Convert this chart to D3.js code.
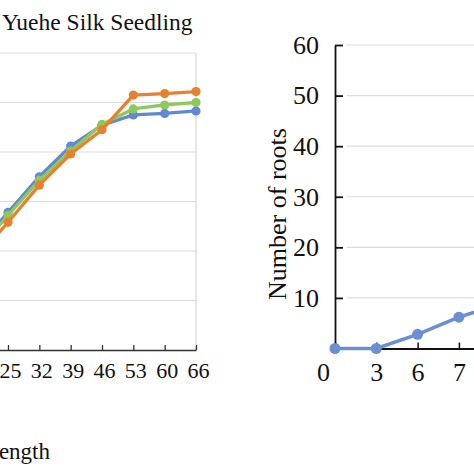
<!DOCTYPE html>
<html>
<head>
<meta charset="utf-8">
<script src="https://cdn.jsdelivr.net/npm/d3@7"></script>
<style>
  html, body { margin: 0; padding: 0; background: #fff; }
  svg { display: block; }
  text { font-family: "Liberation Serif", "DejaVu Serif", serif; fill: #111; }
</style>
</head>
<body>
<svg id="chart"></svg>
<script>
// left panel: seedling length categories and three series
const lengthCats = [18, 25, 32, 39, 46, 53, 60, 66]
const blueSeries = [20.5, 27.8, 35.0, 41.2, 45.4, 47.5, 47.8, 48.3]
const greenSeries = [20.0, 27.2, 34.3, 40.2, 45.6, 48.7, 49.5, 50.0]
const orangeSeries = [18.5, 25.8, 33.3, 39.6, 44.5, 51.5, 51.8, 52.2]
const leftTicks = [0, 10, 20, 30, 40, 50, 60]
const leftLabels = [25, 32, 39, 46, 53, 60, 66]

// right panel: number of roots
const dayCats = ['0', '3', '6', '7', '8']
const rootCounts = [0, 0, 2.8, 6.2, 8.8]
const rightTicks = [10, 20, 30, 40, 50, 60]
const rightLabels = ['0', '3', '6', '7']

const width = 474
const height = 474

const svg = d3.select('#chart')
  .attr('width', width)
  .attr('height', height)

/* ---------- left chart ---------- */
const left = svg.append('g')

const xL = d3.scalePoint().domain(lengthCats).range([8 - 31.33, 196])
const yL = d3.scaleLinear().domain([0, 60]).range([350, 53])

// gridlines
left.append('g').selectAll('line')
  .data(leftTicks.filter(t => t > 0))
  .join('line')
  .attr('x1', -40).attr('x2', xL(66))
  .attr('y1', d => yL(d)).attr('y2', d => yL(d))
  .attr('stroke', '#dcdcdc').attr('stroke-width', 1.2)

// right border of plot
left.append('line')
  .attr('x1', xL(66)).attr('x2', xL(66))
  .attr('y1', yL(60)).attr('y2', yL(0))
  .attr('stroke', '#d6d6d6').attr('stroke-width', 1.2)

// x axis with inner ticks
const xAxisL = d3.axisBottom(xL).tickValues(leftLabels).tickSizeInner(-5).tickSizeOuter(0).tickPadding(12)
const gxL = left.append('g').attr('transform', `translate(0,${yL(0)})`).call(xAxisL)
gxL.select('.domain').attr('stroke', '#333').attr('stroke-width', 1.3)
gxL.selectAll('.tick line').attr('stroke', '#333').attr('stroke-width', 1.3)
gxL.selectAll('.tick text')
  .attr('font-size', 22)
  .attr('dx', 2)
  .style('font-family', '"Liberation Serif", serif')
  .attr('fill', '#111')

// series lines
const leftSeries = [
  { values: blueSeries, color: '#6189d2' },
  { values: greenSeries, color: '#8ec95c' },
  { values: orangeSeries, color: '#e8812f' }
]
const lineL = d3.line().x((d, i) => xL(lengthCats[i])).y(d => yL(d))

leftSeries.forEach(s => {
  left.append('path')
    .datum(s.values)
    .attr('d', lineL)
    .attr('fill', 'none')
    .attr('stroke', s.color)
    .attr('stroke-width', 3.3)
  left.append('g').selectAll('circle')
    .data(s.values)
    .join('circle')
    .attr('cx', (d, i) => xL(lengthCats[i]))
    .attr('cy', d => yL(d))
    .attr('r', 4.6)
    .attr('fill', s.color)
})

// title and x label (cut by the frame)
left.append('text')
  .attr('x', 2).attr('y', 30)
  .attr('font-size', 23.5)
  .text('Yuehe Silk Seedling')

left.append('text')
  .attr('x', 50).attr('y', 459)
  .attr('text-anchor', 'end')
  .attr('font-size', 23)
  .text('Length')

/* ---------- right chart ---------- */
const right = svg.append('g')

const xR = d3.scalePoint().domain(dayCats).range([335, 335 + 4 * 41.3])
const yR = d3.scaleLinear().domain([0, 60]).range([348.5, 45])

right.append('g').selectAll('line')
  .data(rightTicks)
  .join('line')
  .attr('x1', 347).attr('x2', width + 10)
  .attr('y1', d => yR(d)).attr('y2', d => yR(d))
  .attr('stroke', '#dcdcdc').attr('stroke-width', 1.2)

const yAxisR = d3.axisLeft(yR).tickValues(rightTicks).tickSizeInner(-8).tickSizeOuter(0).tickPadding(16)
const gyR = right.append('g').attr('transform', `translate(${xR('0')},0)`).call(yAxisR)
gyR.select('.domain').attr('stroke', '#111').attr('stroke-width', 1.8)
gyR.selectAll('.tick line').attr('stroke', '#111').attr('stroke-width', 1.8)
gyR.selectAll('.tick text')
  .attr('font-size', 26)
  .style('font-family', '"Liberation Serif", serif')
  .attr('fill', '#111')

const xAxisR = d3.axisBottom(xR).tickValues(rightLabels).tickSizeInner(-6).tickSizeOuter(0).tickPadding(14)
const gxR = right.append('g').attr('transform', `translate(0,${yR(0)})`).call(xAxisR)
gxR.select('.domain').attr('stroke', '#111').attr('stroke-width', 1.8)
gxR.selectAll('.tick line').attr('stroke', '#111').attr('stroke-width', 1.5)
gxR.selectAll('.tick text')
  .attr('font-size', 26)
  .attr('dx', d => d === '0' ? -12 : 0)
  .style('font-family', '"Liberation Serif", serif')
  .attr('fill', '#111')

right.append('text')
  .attr('transform', `translate(286,214) rotate(-90)`)
  .attr('text-anchor', 'middle')
  .attr('font-size', 26)
  .text('Number of roots')

const lineR = d3.line().x((d, i) => xR(dayCats[i])).y(d => yR(d))
right.append('path')
  .datum(rootCounts)
  .attr('d', lineR)
  .attr('fill', 'none')
  .attr('stroke', '#6a8fd2')
  .attr('stroke-width', 3.5)

right.append('g').selectAll('circle')
  .data(rootCounts)
  .join('circle')
  .attr('cx', (d, i) => xR(dayCats[i]))
  .attr('cy', d => yR(d))
  .attr('r', 5.5)
  .attr('fill', '#6a8fd2')
</script>
</body>
</html>
